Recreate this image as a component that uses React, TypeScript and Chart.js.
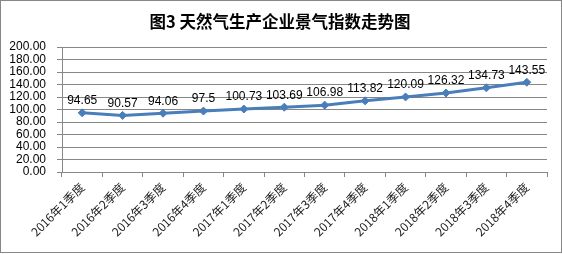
import React, { useEffect, useRef } from "react";
import { Chart, registerables } from "chart.js";

Chart.register(...registerables);

const TITLE = "图3 天然气生产企业景气指数走势图";
const categories = [
  "2016年1季度", "2016年2季度", "2016年3季度", "2016年4季度",
  "2017年1季度", "2017年2季度", "2017年3季度", "2017年4季度",
  "2018年1季度", "2018年2季度", "2018年3季度", "2018年4季度",
];
const indexValues = [94.65, 90.57, 94.06, 97.5, 100.73, 103.69, 106.98, 113.82, 120.09, 126.32, 134.73, 143.55];
const yMin = 0;
const yMax = 200;
const yStep = 20;

const GRAY = "#878787";
const BLUE = "#4A7EBB";

const decorPlugin = {
  id: "decor",
  afterDraw(chart: any) {
    const ctx = chart.ctx;
    ctx.save();
    ctx.strokeStyle = GRAY;
    ctx.lineWidth = 1;
    ctx.strokeRect(0.5, 0.5, chart.width - 1, chart.height - 2);
    ctx.fillStyle = "#000";
    ctx.font = "bold 16.5px 'Noto Sans CJK SC'";
    ctx.textAlign = "center";
    ctx.textBaseline = "middle";
    ctx.fillText(TITLE, 280, 22);
    ctx.restore();
  },
  afterDatasetsDraw(chart: any) {
    const ctx = chart.ctx;
    const meta = chart.getDatasetMeta(0);
    ctx.save();
    ctx.fillStyle = "#000";
    ctx.font = "12px 'Liberation Sans'";
    ctx.textAlign = "center";
    ctx.textBaseline = "middle";
    meta.data.forEach((pt: any, i: number) => {
      ctx.fillText(String(indexValues[i]), pt.x, pt.y - 12);
    });
    ctx.restore();
  },
};

export default function App() {
  const ref = useRef<HTMLCanvasElement>(null);
  useEffect(() => {
    if (!ref.current) return;
    const chart = new Chart(ref.current, {
      type: "line",
      data: {
        labels: categories,
        datasets: [
          {
            data: indexValues,
            borderColor: BLUE,
            backgroundColor: BLUE,
            borderWidth: 3,
            pointStyle: "rectRot",
            pointRadius: 4,
            pointBorderWidth: 1,
            pointBackgroundColor: BLUE,
            pointBorderColor: BLUE,
            tension: 0,
          },
        ],
      },
      options: {
        responsive: false,
        animation: false,
        layout: { padding: { top: 47, right: 15, left: 0, bottom: 0 } },
        plugins: {
          legend: { display: false },
          title: { display: false },
          tooltip: { enabled: false },
        },
        scales: {
          x: {
            offset: true,
            grid: {
              offset: true,
              drawOnChartArea: false,
              drawTicks: true,
              tickLength: 5,
              color: GRAY,
            },
            border: { color: GRAY },
            ticks: {
              autoSkip: false,
              maxRotation: 45,
              minRotation: 45,
              padding: 3,
              color: "#222",
              font: { family: "'Noto Sans CJK SC'", size: 12 },
            },
            afterFit(scale: any) {
              scale.height = 82;
            },
          },
          y: {
            min: yMin,
            max: yMax,
            grid: { color: GRAY, tickLength: 5 },
            border: { color: GRAY },
            ticks: {
              stepSize: yStep,
              autoSkip: false,
              padding: 11,
              color: "#000",
              font: { family: "'Liberation Sans'", size: 12 },
              callback: (v: any) => Number(v).toFixed(2),
            },
            afterFit(scale: any) {
              scale.width = 62;
            },
          },
        },
      },
      plugins: [decorPlugin],
    });
    return () => chart.destroy();
  }, []);
  return (
    <div style={{ position: "fixed", left: 0, top: 0, width: 562, height: 254, background: "#fff" }}>
      <canvas ref={ref} width={562} height={254} />
    </div>
  );
}
